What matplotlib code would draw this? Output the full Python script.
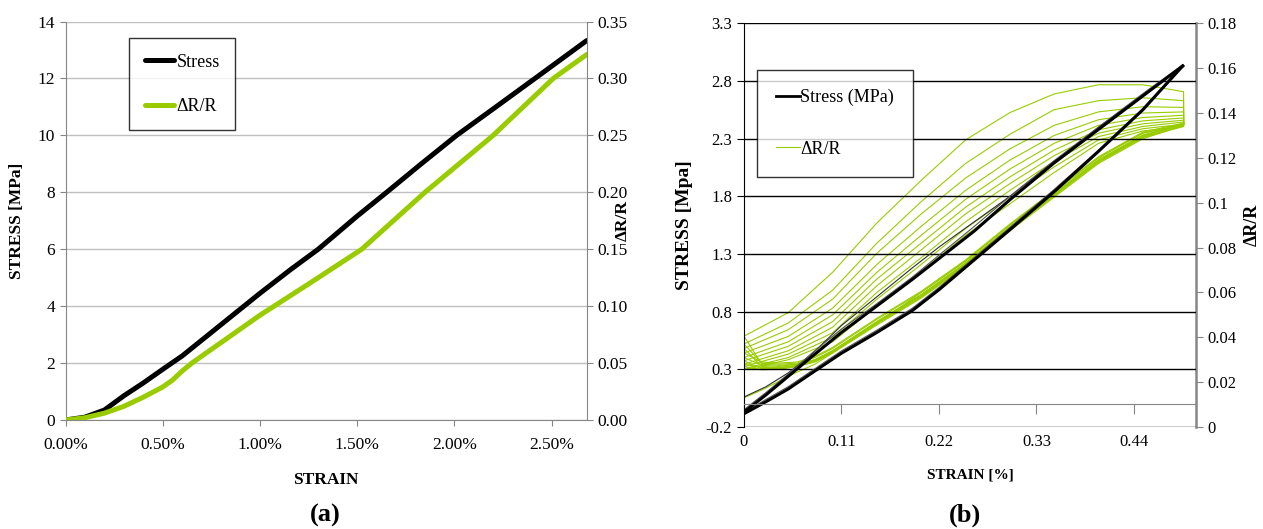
import matplotlib
matplotlib.use("Agg")
import matplotlib.pyplot as plt
from matplotlib.ticker import FuncFormatter
from matplotlib.lines import Line2D

plt.rcParams['font.family'] = ['Liberation Serif', 'DejaVu Serif']

# ---------------- Panel (a) data ----------------
strain_a_stress = [0, 0.1, 0.2, 0.25, 0.3, 0.4, 0.5, 0.6, 0.8, 1.0, 1.155, 1.3, 1.498, 1.652, 1.83, 2.012, 2.2, 2.415, 2.681]
stress_a = [0, 0.1, 0.35, 0.6, 0.85, 1.3, 1.78, 2.25, 3.35, 4.45, 5.27, 6.0, 7.15, 8.0, 9.0, 10.0, 10.93, 12.0, 13.33]
strain_a_dr = [0, 0.1, 0.2, 0.3, 0.4, 0.5, 0.55, 0.6, 0.65, 0.8, 1.0, 1.155, 1.3, 1.524, 1.849, 2.2, 2.509, 2.681]
dr_a = [0, 0.002, 0.006, 0.012, 0.02, 0.029, 0.035, 0.043, 0.05, 0.068, 0.092, 0.109, 0.125, 0.150, 0.200, 0.250, 0.300, 0.321]
xticks_a = [0, 0.5, 1.0, 1.5, 2.0, 2.5]
yticks_a = [0, 2, 4, 6, 8, 10, 12, 14]
y2ticks_a = [0, 0.05, 0.10, 0.15, 0.20, 0.25, 0.30, 0.35]

# ---------------- Panel (b) data ----------------
strain_b_stress = [0, 0.025, 0.05, 0.075, 0.11, 0.15, 0.19, 0.22, 0.26, 0.30, 0.35, 0.40, 0.45, 0.495]
stress_b_first = [0.06, 0.15, 0.27, 0.42, 0.68, 0.93, 1.18, 1.36, 1.58, 1.80, 2.10, 2.40, 2.68, 2.93]
stress_b_load = [-0.07, 0.08, 0.24, 0.40, 0.62, 0.85, 1.08, 1.26, 1.50, 1.77, 2.09, 2.38, 2.67, 2.93]
stress_b_load2 = [-0.05, 0.10, 0.26, 0.43, 0.65, 0.87, 1.10, 1.29, 1.54, 1.80, 2.11, 2.40, 2.69, 2.94]
stress_b_unload = [-0.085, 0.02, 0.13, 0.26, 0.44, 0.62, 0.81, 0.99, 1.25, 1.51, 1.84, 2.19, 2.55, 2.93]
stress_b_unload2 = [-0.07, 0.04, 0.15, 0.28, 0.46, 0.64, 0.83, 1.01, 1.27, 1.53, 1.86, 2.20, 2.56, 2.94]

strain_b_unload = [0.496, 0.496, 0.45, 0.40, 0.35, 0.30, 0.25, 0.20, 0.15, 0.10, 0.05, 0.0]
dr_b_unload = [
    [0.135, 0.1495, 0.1526, 0.1526, 0.1485, 0.1402, 0.128, 0.110, 0.091, 0.069, 0.051, 0.0405],
    [0.135, 0.1455, 0.1468, 0.1455, 0.1415, 0.1305, 0.1175, 0.1005, 0.082, 0.061, 0.0464, 0.037],
    [0.135, 0.1425, 0.1428, 0.1405, 0.1345, 0.124, 0.111, 0.095, 0.0775, 0.057, 0.0434, 0.035],
    [0.135, 0.1405, 0.140, 0.137, 0.130, 0.119, 0.1055, 0.0895, 0.0725, 0.053, 0.0404, 0.033],
    [0.135, 0.139, 0.138, 0.1345, 0.1265, 0.115, 0.1015, 0.0855, 0.069, 0.050, 0.038, 0.031],
    [0.135, 0.1378, 0.1365, 0.1325, 0.1235, 0.1115, 0.098, 0.082, 0.066, 0.047, 0.036, 0.0295],
    [0.135, 0.1368, 0.1352, 0.131, 0.121, 0.1085, 0.095, 0.079, 0.063, 0.0445, 0.034, 0.028],
    [0.135, 0.136, 0.134, 0.1295, 0.1185, 0.1055, 0.0915, 0.0755, 0.060, 0.042, 0.0325, 0.027],
    [0.135, 0.135, 0.133, 0.128, 0.116, 0.1025, 0.0885, 0.0725, 0.057, 0.040, 0.031, 0.026],
    [0.135, 0.134, 0.132, 0.1265, 0.1135, 0.0995, 0.0855, 0.0695, 0.054, 0.038, 0.030, 0.0255],
]
strain_b_load = [0.0, 0.02, 0.04, 0.06, 0.08, 0.10, 0.15, 0.20, 0.25, 0.30, 0.35, 0.40, 0.45, 0.496]
dr_b_load = [
    [0.013, 0.0165, 0.0205, 0.0245, 0.028, 0.033, 0.046, 0.060, 0.074, 0.090, 0.105, 0.120, 0.131, 0.135],
    [0.0405, 0.028, 0.0275, 0.028, 0.030, 0.034, 0.047, 0.059, 0.073, 0.089, 0.104, 0.119, 0.130, 0.135],
    [0.037, 0.0285, 0.028, 0.0285, 0.031, 0.035, 0.048, 0.060, 0.074, 0.090, 0.105, 0.120, 0.131, 0.135],
    [0.035, 0.027, 0.0265, 0.0275, 0.0295, 0.0335, 0.046, 0.058, 0.072, 0.088, 0.103, 0.118, 0.129, 0.134],
    [0.033, 0.029, 0.0285, 0.029, 0.0315, 0.0355, 0.0485, 0.0605, 0.0745, 0.0905, 0.1055, 0.1205, 0.1315, 0.1355],
    [0.031, 0.0275, 0.027, 0.028, 0.030, 0.034, 0.0465, 0.0585, 0.0725, 0.0885, 0.1035, 0.1185, 0.1295, 0.135],
    [0.0295, 0.026, 0.026, 0.027, 0.029, 0.033, 0.0455, 0.0575, 0.0715, 0.0875, 0.1025, 0.1175, 0.1285, 0.1345],
    [0.028, 0.0265, 0.0265, 0.0275, 0.0298, 0.0338, 0.047, 0.059, 0.0732, 0.0892, 0.1042, 0.1192, 0.1302, 0.135],
    [0.027, 0.0255, 0.0258, 0.027, 0.0292, 0.0332, 0.0462, 0.0582, 0.0722, 0.0882, 0.1032, 0.1182, 0.1292, 0.1345],
    [0.026, 0.0258, 0.026, 0.0272, 0.0295, 0.0335, 0.0468, 0.0588, 0.0728, 0.0888, 0.1038, 0.1188, 0.1298, 0.135],
]
xticks_b = [0, 0.11, 0.22, 0.33, 0.44]
yticks_b = [-0.2, 0.3, 0.8, 1.3, 1.8, 2.3, 2.8, 3.3]
y2ticks_b = [0, 0.02, 0.04, 0.06, 0.08, 0.10, 0.12, 0.14, 0.16, 0.18]

GREEN = '#99CC00'
GRAY = '#868686'
W, H = 1263, 529

fig = plt.figure(figsize=(12.63, 5.29), dpi=100)

# ================= Panel (a) =================
axA = fig.add_axes([65.5/W, 1-420/H, 521.2/W, 398.5/H])
axA2 = axA.twinx()
axA.set_xlim(0, 2.681)
axA.set_ylim(0, 14)
axA2.set_ylim(0, 0.35)
axA.set_yticks(yticks_a)
axA2.set_yticks(y2ticks_a)
axA.set_xticks(xticks_a)
axA.xaxis.set_major_formatter(FuncFormatter(lambda v, p: f"{v:.2f}%"))
axA2.yaxis.set_major_formatter(FuncFormatter(lambda v, p: f"{v:.2f}"))
axA.yaxis.grid(True, color='#c0c0c0', lw=1.0)
axA.set_axisbelow(True)
axA.spines['top'].set_visible(False)
axA2.spines['top'].set_visible(False)
axA.spines['right'].set_visible(False)
axA.spines['left'].set_color(GRAY)
axA.spines['bottom'].set_color(GRAY)
axA2.spines['right'].set_color(GRAY)
axA2.spines['left'].set_visible(False)
axA2.spines['bottom'].set_visible(False)
axA.tick_params(axis='both', colors=GRAY, labelcolor='black', labelsize=12.5, length=4)
axA2.tick_params(axis='y', colors=GRAY, labelcolor='black', labelsize=12.5, length=4)
axA.tick_params(axis='x', pad=8)

lA1, = axA.plot(strain_a_stress, stress_a, color='black', lw=3.6, solid_capstyle='round', label='Stress')
lA2, = axA2.plot(strain_a_dr, dr_a, color=GREEN, lw=3.6, solid_capstyle='round', label='ΔR/R')

axA.set_xlabel('STRAIN', fontweight='bold', fontsize=12.5)
axA.xaxis.set_label_coords(0.5, -0.13)
axA.set_ylabel('STRESS [MPa]', fontweight='bold', fontsize=12.5)
axA.yaxis.set_label_coords(-0.077, 0.5)
axA2.set_ylabel('ΔR/R', fontweight='bold', fontsize=12.5, rotation=90)
axA2.yaxis.set_label_coords(1.054, 0.5)

legA = axA2.legend(handles=[lA1, lA2], loc='upper left', bbox_to_anchor=(0.1226, 0.9576),
                   frameon=True, fancybox=False, edgecolor='black', fontsize=13,
                   labelspacing=1.5, handlelength=1.6, handletextpad=0.15,
                   borderpad=0.85, borderaxespad=0)
legA.get_frame().set_linewidth(1.0)

# ================= Panel (b) =================
axB = fig.add_axes([744/W, 1-427/H, 452/W, 403.7/H])
axB2 = axB.twinx()
axB.set_zorder(axB2.get_zorder() + 1)
axB.patch.set_visible(False)

axB.set_xlim(0, 0.51)
axB.set_ylim(-0.2, 3.3)
axB2.set_ylim(0, 0.18)
axB.set_yticks(yticks_b)
axB.yaxis.set_major_formatter(FuncFormatter(lambda v, p: f"{v:.1f}"))
axB2.set_yticks(y2ticks_b)
axB2.yaxis.set_major_formatter(FuncFormatter(lambda v, p: f"{v:g}"))
axB.yaxis.grid(True, color='black', lw=1.0)

axB.spines['top'].set_visible(False)
axB.spines['right'].set_visible(False)
axB.spines['bottom'].set_position(('data', 0))
axB.spines['bottom'].set_color(GRAY)
axB.spines['left'].set_color('black')
axB2.spines['top'].set_visible(False)
axB2.spines['left'].set_visible(False)
axB2.spines['bottom'].set_visible(False)
axB2.spines['right'].set_color(GRAY)
axB2.spines['right'].set_linewidth(1.8)

axB.set_xticks(xticks_b)
axB.tick_params(axis='x', colors=GRAY, length=7, labelbottom=False)
axB.tick_params(axis='y', colors='black', labelsize=12, length=5)
axB2.tick_params(axis='y', colors=GRAY, labelcolor='black', labelsize=12, length=5)

secB = axB.secondary_xaxis('bottom')
secB.set_xticks(xticks_b)
secB.xaxis.set_major_formatter(FuncFormatter(lambda v, p: f"{v:g}"))
secB.tick_params(length=0, pad=5, labelsize=12)
secB.spines['bottom'].set_visible(False)

# green curves (cycles: loading then unloading)
for i in range(len(dr_b_load)):
    axB2.plot(strain_b_load, dr_b_load[i], color=GREEN, lw=0.8)
    axB2.plot(strain_b_unload, dr_b_unload[i], color=GREEN, lw=0.8)

# black curves
axB.plot(strain_b_stress, stress_b_first, color='#303030', lw=0.8)
axB.plot(strain_b_stress, stress_b_load2, color='#555555', lw=0.8)
axB.plot(strain_b_stress, stress_b_unload2, color='#555555', lw=0.8)
axB.plot(strain_b_stress, stress_b_load, color='black', lw=2.2)
axB.plot(strain_b_stress, stress_b_unload, color='black', lw=2.2)

hB1 = Line2D([], [], color='black', lw=2.0)
hB2 = Line2D([], [], color=GREEN, lw=0.8)
legB = axB.legend([hB1, hB2], ['Stress (MPa)', 'ΔR/R'], loc='upper left',
                  bbox_to_anchor=(0.029, 0.884), frameon=True, fancybox=False,
                  edgecolor='black', fontsize=13, labelspacing=1.9,
                  handlelength=1.3, handletextpad=0.05, borderpad=1.05, borderaxespad=0)
legB.get_frame().set_linewidth(1.0)

axB.set_xlabel('STRAIN [%]', fontweight='bold', fontsize=11)
axB.xaxis.set_label_coords(0.5, -0.102)
axB.set_ylabel('STRESS [Mpa]', fontweight='bold', fontsize=14)
axB.yaxis.set_label_coords(-0.113, 0.5)
axB2.set_ylabel('ΔR/R', fontweight='bold', fontsize=13, rotation=90)
axB2.yaxis.set_label_coords(1.106, 0.5)

fig.text(325/W, 1-515/H, '(a)', fontweight='bold', fontsize=19, ha='center', va='center')
fig.text(965/W, 1-515/H, '(b)', fontweight='bold', fontsize=19, ha='center', va='center')

fig.savefig('out.png', dpi=100)
